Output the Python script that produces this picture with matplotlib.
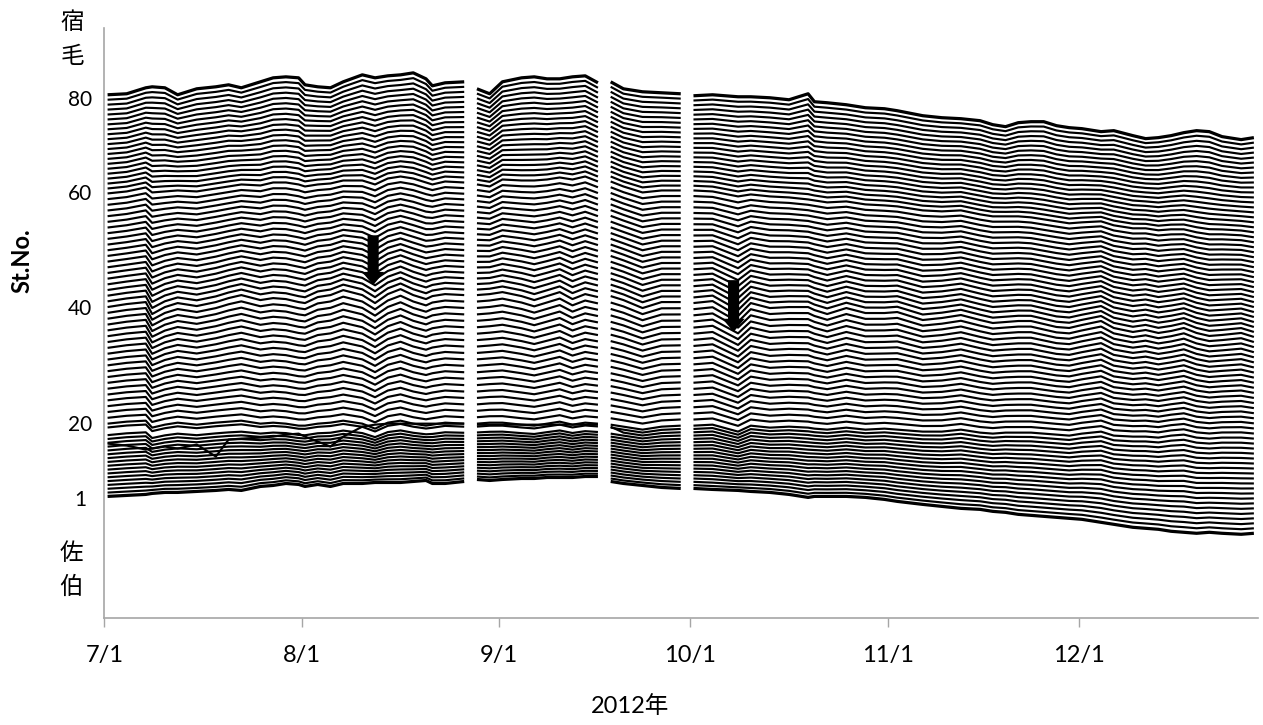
import numpy as np
import pandas as pd
import matplotlib
matplotlib.use("Agg")
import matplotlib.pyplot as plt

# ---------------- data ----------------
sample_dates = [
    # 7/1 - 8/26
    "2012-07-01", "2012-07-04", "2012-07-07", "2012-07-08", "2012-07-10", "2012-07-12",
    "2012-07-15", "2012-07-18", "2012-07-20", "2012-07-22", "2012-07-25", "2012-07-27",
    "2012-07-29", "2012-07-31", "2012-08-01", "2012-08-03", "2012-08-05", "2012-08-07",
    "2012-08-10", "2012-08-12", "2012-08-14", "2012-08-16", "2012-08-18", "2012-08-20",
    "2012-08-21", "2012-08-23", "2012-08-26",
    # 8/28 - 9/16
    "2012-08-28", "2012-08-30", "2012-09-01", "2012-09-04", "2012-09-06", "2012-09-08",
    "2012-09-10", "2012-09-12", "2012-09-14", "2012-09-16",
    # 9/18 - 9/29
    "2012-09-18", "2012-09-20", "2012-09-23", "2012-09-26", "2012-09-29",
    # 10/1 - 12/28
    "2012-10-01", "2012-10-04", "2012-10-08", "2012-10-10", "2012-10-13", "2012-10-16",
    "2012-10-19", "2012-10-20", "2012-10-22", "2012-10-25", "2012-10-28", "2012-10-31",
    "2012-11-02", "2012-11-06", "2012-11-09", "2012-11-12", "2012-11-15", "2012-11-17",
    "2012-11-19", "2012-11-21", "2012-11-23", "2012-11-25", "2012-11-27", "2012-11-29",
    "2012-12-01", "2012-12-04", "2012-12-06", "2012-12-09", "2012-12-11", "2012-12-13",
    "2012-12-15", "2012-12-17", "2012-12-19", "2012-12-21", "2012-12-23", "2012-12-26",
    "2012-12-28",
]
missing_dates = ["2012-08-27", "2012-09-17", "2012-09-30"]

# stacked value of the reference stations (St.1, 20, 40, 60, 80)
st1 = [120, 121, 122, 123, 124, 124, 125, 126, 127, 126, 130, 131, 133, 132, 130, 132, 130, 133,
       133, 134, 134, 134, 135, 136, 133, 133, 135,
       137, 136, 137, 138, 138, 139, 139, 139, 140, 140,
       135, 133, 131, 129, 128,
       128, 127, 126, 125, 124, 122, 119, 120, 120, 120, 119, 117, 115, 112, 110, 108, 107, 105,
       104, 102, 101, 100, 99, 98, 97, 94, 92, 89, 88, 87, 85, 84, 83, 84, 83, 82, 83]
st20 = [193, 195, 196, 189, 192, 194, 192, 194, 195, 196, 193, 194, 193, 191, 191, 193, 194, 196,
        193, 188, 194, 196, 193, 191, 192, 194, 193,
        193, 194, 194, 192, 191, 193, 195, 192, 194, 193,
        192, 190, 187, 190, 191,
        191, 192, 185, 191, 189, 190, 189, 188, 187, 189, 187, 188, 187, 185, 185, 187, 184, 183,
        184, 184, 184, 183, 182, 181, 183, 185, 181, 180, 180, 179, 181, 182, 179, 178, 179, 179, 178]
st40 = [310, 313, 315, 303, 310, 314, 311, 315, 319, 322, 317, 319, 318, 315, 314, 320, 322, 327,
        322, 314, 323, 328, 322, 318, 321, 323, 322,
        322, 323, 325, 321, 317, 321, 325, 318, 323, 320,
        321, 317, 309, 315, 315,
        314, 316, 301, 314, 309, 310, 310, 307, 303, 309, 304, 304, 305, 297, 299, 302, 297, 294,
        295, 296, 296, 293, 290, 289, 292, 296, 289, 285, 287, 284, 286, 289, 284, 281, 282, 284, 280]
st60 = [424, 426, 430, 425, 426, 427, 426, 429, 431, 433, 432, 435, 435, 433, 431, 433, 434, 437,
        437, 433, 439, 441, 439, 435, 433, 436, 435,
        433, 431, 438, 437, 437, 438, 440, 438, 441, 436,
        436, 431, 425, 427, 427,
        427, 426, 421, 423, 421, 420, 418, 417, 415, 416, 413, 412, 411, 407, 406, 407, 403, 401,
        401, 401, 400, 398, 396, 394, 395, 396, 392, 389, 389, 387, 388, 388, 385, 383, 383, 382, 380]
st80 = [523, 524, 530, 531, 530, 523, 529, 531, 533, 530, 536, 540, 541, 540, 533, 531, 530, 536,
        543, 540, 542, 543, 545, 539, 532, 535, 536,
        529, 524, 536, 540, 541, 539, 539, 541, 542, 535,
        536, 529, 526, 525, 524,
        522, 523, 521, 521, 520, 518, 524, 516, 515, 513, 510, 509, 507, 502, 500, 499, 497, 493,
        491, 495, 496, 496, 492, 490, 489, 486, 487, 482, 479, 480, 482, 485, 487, 486, 481, 478, 480]
ref_stations = [1, 20, 40, 60, 80]

# one station whose trace departs from its neighbours (NaN = follows neighbours)
nan = np.nan
st18 = [173, 171, 167, 168, 170, 168, 172, 160, 177, 178, 179, 180, 182, 183, 180, 175, 170, 180,
        190, 192, 193, 193, 193, 193, 193, 193, 193,
        192, 192, 192, 192, 192, 192, 192, 192, 192, 192,
        190, nan, nan, nan, nan] + [nan] * 37

n_stations = 80
month_ticks = ["2012-07-01", "2012-08-01", "2012-09-01", "2012-10-01", "2012-11-01", "2012-12-01"]
month_labels = ["7/1", "8/1", "9/1", "10/1", "11/1", "12/1"]
ytick_pos = [118, 194, 310, 425, 520]
ytick_labels = ["1", "20", "40", "60", "80"]
arrow_dates = [42.2, 98.8]          # days after 7/1
arrow_from = [382, 337]
arrow_to = [332, 285]

# ---------------- build table ----------------
origin = pd.Timestamp("2012-07-01")
df = pd.DataFrame({"date": pd.to_datetime(sample_dates), "st1": st1, "st20": st20,
                   "st40": st40, "st60": st60, "st80": st80, "st18": st18})
gap = pd.DataFrame({"date": pd.to_datetime(missing_dates)})
df = pd.concat([df, gap]).sort_values("date").reset_index(drop=True)
x = (df["date"] - origin).dt.days.to_numpy() + 0.5
refs = df[["st1", "st20", "st40", "st60", "st80"]].to_numpy(dtype=float)

# ---------------- plot ----------------
plt.rcParams["font.family"] = ["Lato", "Noto Sans CJK JP", "DejaVu Sans"]
fig = plt.figure(figsize=(12.63, 7.25), dpi=100)
ax = fig.add_axes([104.4 / 1263, 107 / 725, (1257.7 - 104.4) / 1263, (618 - 28) / 725])

for s in range(1, n_stations + 1):
    y = np.array([np.interp(s, ref_stations, row) if not np.isnan(row).any() else np.nan
                  for row in refs])
    if s == 18:
        sp = df["st18"].to_numpy(dtype=float)
        y = np.where(np.isnan(sp), y, sp)
    lw = 2.3 if s in (1, n_stations) else 1.55
    ax.plot(x, y, color="black", lw=lw, solid_joinstyle="round", solid_capstyle="butt")

for d, y0, y1 in zip(arrow_dates, arrow_from, arrow_to):
    ax.annotate("", xy=(d, y1), xytext=(d, y0),
                arrowprops=dict(arrowstyle="simple,head_width=1.6,head_length=0.95,tail_width=0.8",
                                mutation_scale=10, color="black", shrinkA=0, shrinkB=0, lw=0))

ax.set_xlim(0, 181.1)
ax.set_ylim(-2, 590)
tick_x = [(pd.Timestamp(t) - origin).days for t in month_ticks]
ax.set_xticks(tick_x, month_labels)
ax.set_yticks(ytick_pos, ytick_labels)
ax.tick_params(axis="x", length=6.5, width=1, color="#a6a6a6", direction="out", labelsize=17,
               pad=13)
ax.tick_params(axis="y", length=0, labelsize=15, pad=17.5)
for lab in ax.get_yticklabels():
    lab.set_horizontalalignment("center")
for side in ["top", "right"]:
    ax.spines[side].set_visible(False)
for side in ["left", "bottom"]:
    ax.spines[side].set_color("#a6a6a6")
    ax.spines[side].set_linewidth(1.2)

fig.text(72 / 1263, 1 - 22 / 725, "宿", ha="center", va="center", fontsize=17)
fig.text(72 / 1263, 1 - 56 / 725, "毛", ha="center", va="center", fontsize=17)
fig.text(71 / 1263, 1 - 553 / 725, "佐", ha="center", va="center", fontsize=17)
fig.text(71 / 1263, 1 - 587 / 725, "伯", ha="center", va="center", fontsize=17)
fig.text(22 / 1263, 1 - 261 / 725, "St.No.", rotation=90, ha="center", va="center",
         fontsize=17, fontweight="bold")
fig.text(630 / 1263, 1 - 706 / 725, "2012年", ha="center", va="center", fontsize=17)

fig.savefig("out.png", dpi=100)
